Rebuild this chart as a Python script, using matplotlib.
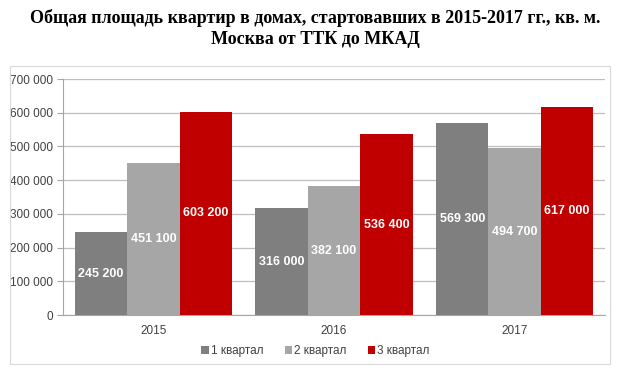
import matplotlib
matplotlib.use("Agg")
import matplotlib.pyplot as plt
from matplotlib.patches import Rectangle
import numpy as np

years = ["2015", "2016", "2017"]
series_names = ["1 квартал", "2 квартал", "3 квартал"]
q1 = [245200, 316000, 569300]
q2 = [451100, 382100, 494700]
q3 = [603200, 536400, 617000]
colors = ["#7f7f7f", "#a6a6a6", "#c00000"]
yticks = [0, 100000, 200000, 300000, 400000, 500000, 600000, 700000]

def fmt(v):
    return f"{v:,}".replace(",", " ")

W, H = 631, 378
fig = plt.figure(figsize=(W/100, H/100), dpi=100)
fig.patch.set_facecolor("white")

# outer chart border
fig.patches.append(Rectangle((10/W, 1-364/H), 600/W, 298/H, transform=fig.transFigure,
                             fill=False, edgecolor="#d9d9d9", linewidth=0.8))

fig.text(0.5, 1-18/H, "Общая площадь квартир в домах, стартовавших в 2015-2017 гг., кв. м.",
         ha="center", va="center", fontsize=13, fontweight="bold", family="Liberation Serif")
fig.text(0.5, 1-39/H, "Москва от ТТК до МКАД",
         ha="center", va="center", fontsize=13, fontweight="bold", family="Liberation Serif")

ax = fig.add_axes([63/W, 1-315/H, (605-63)/W, (315-79)/H])
x = np.arange(len(years))
bw = 0.29
for i, (vals, c) in enumerate(zip([q1, q2, q3], colors)):
    pos = x + (i-1)*bw
    ax.bar(pos, vals, width=bw, color=c, label=series_names[i], zorder=3)
    for p, v in zip(pos, vals):
        ax.text(p, v/2, fmt(v), ha="center", va="center", color="white",
                fontsize=9, fontweight="bold", family="Liberation Sans", zorder=4)

ax.set_xlim(-0.5, 2.5)
ax.set_ylim(0, 700000)
ax.set_yticks(yticks)
ax.set_yticklabels([fmt(v) for v in yticks], family="Liberation Sans", fontsize=8.5, color="#404040")
ax.set_xticks(x)
ax.set_xticklabels(years, family="Liberation Sans", fontsize=8.5, color="#404040")
ax.grid(axis="y", color="#bfbfbf", linewidth=0.9, zorder=0)
for s in ["top", "right"]:
    ax.spines[s].set_visible(False)
ax.spines["left"].set_color("#a6a6a6")
ax.spines["bottom"].set_color("#a6a6a6")
ax.tick_params(axis="y", length=4, color="#a6a6a6", pad=3)
ax.tick_params(axis="x", length=0, pad=7)

leg = fig.legend(loc="center", bbox_to_anchor=(0.5, 1-351/H), ncol=3, frameon=False,
                 prop={"family": "Liberation Sans", "size": 8.5},
                 handlelength=0.6, handleheight=0.6, handletextpad=0.2, columnspacing=1.8)
for t in leg.get_texts():
    t.set_color("#404040")

fig.savefig("out.png", dpi=100)
